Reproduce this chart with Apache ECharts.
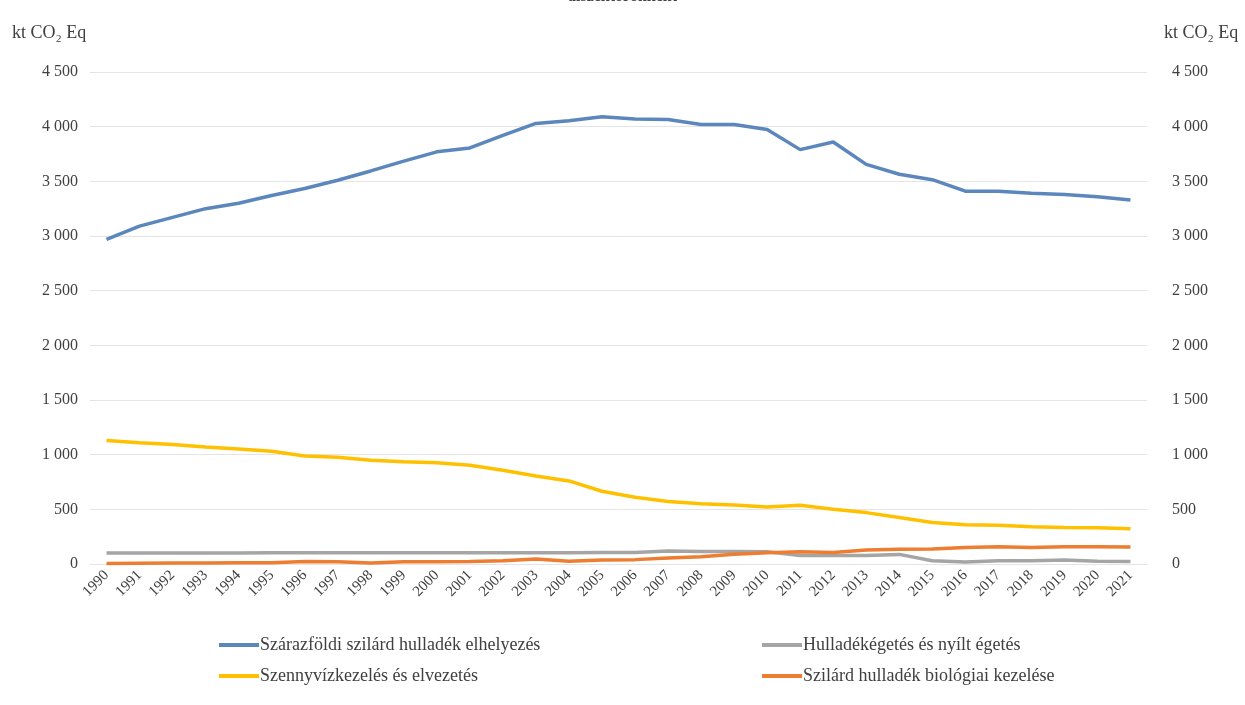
<!DOCTYPE html>
<html>
<head>
<meta charset="utf-8">
<script src="https://cdn.jsdelivr.net/npm/echarts@6/dist/echarts.min.js"></script>
<style>
  html, body { margin: 0; background: #fff; }
  #chart { width: 1245px; height: 705px; }
</style>
</head>
<body>
<div id="chart"></div>
<script>
const years = ['1990', '1991', '1992', '1993', '1994', '1995', '1996', '1997', '1998', '1999',
  '2000', '2001', '2002', '2003', '2004', '2005', '2006', '2007', '2008', '2009',
  '2010', '2011', '2012', '2013', '2014', '2015', '2016', '2017', '2018', '2019',
  '2020', '2021']

// kt CO2 Eq
const landfill = [2970, 3090, 3170, 3250, 3300, 3370, 3435, 3510, 3595, 3685,
  3770, 3805, 3920, 4030, 4055, 4090, 4070, 4065, 4020, 4020,
  3975, 3790, 3860, 3655, 3565, 3515, 3410, 3410, 3390, 3380,
  3360, 3330]
const incineration = [100, 100, 100, 100, 100, 102, 102, 102, 102, 102,
  102, 102, 103, 103, 103, 105, 106, 120, 115, 115,
  112, 78, 78, 78, 88, 30, 18, 30, 30, 36,
  26, 22]
const wastewater = [1130, 1110, 1092, 1070, 1052, 1032, 988, 977, 950, 935,
  927, 903, 858, 805, 760, 665, 610, 572, 552, 540,
  522, 538, 500, 470, 425, 380, 358, 355, 340, 333,
  332, 322]
const biological = [5, 8, 10, 10, 12, 12, 22, 20, 10, 20,
  20, 22, 30, 45, 25, 37, 40, 55, 67, 90,
  104, 112, 106, 127, 135, 137, 152, 158, 150, 157,
  157, 155]

const names = [
  'Szárazföldi szilárd hulladék elhelyezés',
  'Hulladékégetés és nyílt égetés',
  'Szennyvízkezelés és elvezetés',
  'Szilárd hulladék biológiai kezelése'
]

const serif = '"Liberation Serif", "DejaVu Serif", serif'
const textColor = '#404040'
const fmt = (v) => String(v).replace(/\B(?=(\d{3})+(?!\d))/g, ' ')

const chart = echarts.init(document.getElementById('chart'))

const yAxisBase = {
  type: 'value',
  min: 0,
  max: 4500,
  interval: 500,
  axisLine: { show: false },
  axisTick: { show: false },
  splitLine: { show: true, lineStyle: { color: '#e4e4e4', width: 1 } },
  axisLabel: {
    fontFamily: serif,
    fontSize: 16,
    color: textColor,
    formatter: fmt
  }
}

const legendBase = {
  orient: 'vertical',
  top: 631,
  itemWidth: 40,
  itemHeight: 4,
  itemGap: 13,
  icon: 'rect',
  textStyle: { fontFamily: serif, fontSize: 18, color: textColor, padding: [0, 0, 0, -4] }
}

const lineSeries = (name, data, color) => ({
  name,
  type: 'line',
  data,
  symbol: 'none',
  smooth: false,
  lineStyle: { width: 3.5, color },
  itemStyle: { color }
})

chart.setOption({
  backgroundColor: '#fff',
  animation: false,
  title: {
    text: 'alszektoronként',
    left: 'center',
    top: -16,
    textStyle: { fontFamily: serif, fontSize: 16, fontWeight: 'bold', color: textColor }
  },
  graphic: [
    {
      type: 'text',
      left: 12,
      top: 24,
      style: { text: 'kt CO₂ Eq', font: '18px ' + serif, fill: textColor }
    },
    {
      type: 'text',
      left: 1164,
      top: 24,
      style: { text: 'kt CO₂ Eq', font: '18px ' + serif, fill: textColor }
    }
  ],
  legend: [
    Object.assign({}, legendBase, { left: 214, data: [names[0], names[2]] }),
    Object.assign({}, legendBase, { left: 757, data: [names[1], names[3]] })
  ],
  grid: { left: 90, right: 98, top: 72, bottom: 141 },
  xAxis: {
    type: 'category',
    data: years,
    boundaryGap: true,
    axisLine: { show: true, lineStyle: { color: '#e4e4e4' } },
    axisTick: { show: false },
    axisLabel: {
      rotate: 45,
      interval: 0,
      margin: 9,
      fontFamily: serif,
      fontSize: 15,
      color: textColor
    }
  },
  yAxis: [
    Object.assign({}, yAxisBase, { position: 'left', axisLabel: Object.assign({}, yAxisBase.axisLabel, { margin: 12 }) }),
    Object.assign({}, yAxisBase, { position: 'right', splitLine: { show: false }, axisLabel: Object.assign({}, yAxisBase.axisLabel, { margin: 25 }) })
  ],
  series: [
    lineSeries(names[0], landfill, '#5b87bd'),
    lineSeries(names[1], incineration, '#a5a5a5'),
    lineSeries(names[2], wastewater, '#ffc000'),
    lineSeries(names[3], biological, '#ed7d31')
  ]
})
</script>
</body>
</html>
